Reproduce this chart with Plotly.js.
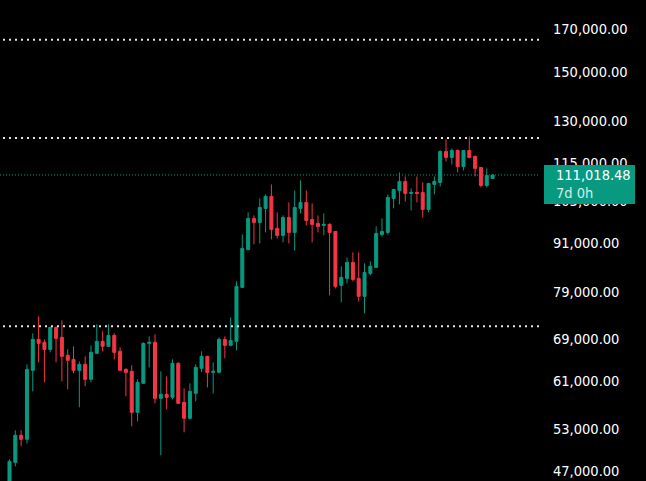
<!DOCTYPE html>
<html>
<head>
<meta charset="utf-8">
<script src="https://cdn.plot.ly/plotly-3.0.1.min.js"></script>
<style>html,body{margin:0;padding:0;background:#000;overflow:hidden}#c{width:646px;height:481px}</style>
</head>
<body>
<div id="c"></div>
<script>
const opens = [44363,48130,52064,51460,62886,68820,68223,66844,71270,69221,65696,64927,62886,63997,61264,66078,68420,67435,69627,66460,
63072,62706,55661,60559,68026,68223,57973,58653,58143,64183,57303,54698,58823,63258,65505,62526,62526,68820,67632,68420,
80056,89404,97840,96708,100727,104307,95037,93124,98127,93937,100727,102498,97553,96429,95871,96150,94208,80525,82177,86091,
82177,77988,83383,84850,93395,93937,103698,106131,108949,105219,105523,105523,100431,108010,108636,118879,116831,119221,113814,119221,
117173,113482,107697,109906];
const highs = [48551,52819,52819,63997,70033,73581,68820,68026,71400,72726,66844,67435,64555,65505,67632,71894,70439,71894,70033,67239,
63258,63811,61264,68223,69424,69830,62706,61804,64927,64369,59683,60559,63997,66460,65600,64369,69221,69424,73371,81461,
93395,99561,98701,103698,104915,108010,99561,98701,102498,106131,109262,106131,102202,98701,99274,96429,94300,85098,87352,88631,
88631,85843,86339,95592,97840,104915,106600,111842,110550,106757,110550,108636,108450,110550,119221,123092,119925,119573,119300,124175,
117515,113550,113150,111200];
const lows = [43500,47574,50424,50865,59163,64369,60734,66269,64369,60909,59508,62346,56478,60034,60734,66000,66460,67350,64932,62800,
58313,53442,54222,60500,63444,57138,49121,56146,57803,57050,52517,54538,57468,62526,59858,58823,62346,65123,67435,66651,
79950,89141,90719,90982,93937,92042,92313,91245,90982,89141,99274,95871,91245,93937,93124,78219,79822,76638,80993,81461,
76859,74226,82901,84750,92853,93395,100727,101906,102794,100135,102498,98127,99561,104915,107383,115473,114477,111842,112486,116489,
110550,107070,107070,109850];
const closes = [48269,52064,51460,63067,68820,68026,66844,71270,69018,65505,64741,62886,63997,61264,66269,68420,67435,69627,66269,62886,
62526,55661,60734,68026,68223,57973,58653,58143,64183,57138,54698,59163,63444,65505,62526,62706,68820,67632,68617,80290,
89667,97840,96708,101023,104307,94758,93124,98127,93937,101023,102498,97266,96150,95592,96150,93937,80290,82418,86091,81936,
77988,83624,85098,93666,94208,104002,106444,108949,105219,105523,105219,100431,108323,108949,118879,116831,119221,113814,119221,116831,
113150,107697,110871,111018.48];
const tickPrices = [47000,53000,61000,69000,79000,91000,103000,115000,130000,150000,170000];
const levels = [164450,123620,71480];
const lastPrice = 111018.48;
const priceLabel = "111,018.48";
const countdown = "7d 0h";
const UP = "#089981", DOWN = "#F23645";
const FONT = "'DejaVu Sans Condensed', Roboto, sans-serif";
const xs = opens.map((_, i) => i);

const W = 646, H = 481, PW = 540;
const fmt = v => v.toLocaleString("en-US", {minimumFractionDigits: 2, maximumFractionDigits: 2});

const shapes = levels.map(v => ({
  type: "line", xref: "paper", yref: "y", x0: 3 / PW, x1: 1, y0: v, y1: v,
  line: {color: "#e4e4e4", width: 2, dash: "2px,4px"}, layer: "above"
}));
shapes.push({
  type: "line", xref: "paper", yref: "y", x0: 0, x1: 1, y0: lastPrice, y1: lastPrice,
  line: {color: UP, width: 1, dash: "1px,2px"}, layer: "below"
});
shapes.push({
  type: "rect", xref: "paper", yref: "paper", x0: 544 / PW, x1: 635 / PW,
  y0: 1 - 204 / H, y1: 1 - 165 / H, fillcolor: UP, line: {width: 0}, layer: "above"
});

Plotly.newPlot("c", [{
  type: "candlestick", x: xs, open: opens, high: highs, low: lows, close: closes,
  increasing: {line: {color: UP, width: 1}, fillcolor: UP},
  decreasing: {line: {color: DOWN, width: 1}, fillcolor: DOWN},
  whiskerwidth: 0, hoverinfo: "skip", showlegend: false
}], {
  width: W, height: H, paper_bgcolor: "#000", plot_bgcolor: "#000",
  margin: {l: 0, r: W - PW, t: 0, b: 0, pad: 0},
  showlegend: false, dragmode: false, boxgap: 0.26,
  xaxis: {range: [-1.632, 91.15], visible: false, rangeslider: {visible: false}, fixedrange: true},
  yaxis: {
    type: "log", side: "right", range: [4.6588, 5.2664], showgrid: false, zeroline: false, showline: false,
    tickmode: "array", tickvals: tickPrices, ticktext: tickPrices.map(fmt),
    ticks: "", ticklabelstandoff: 12,
    tickfont: {family: FONT, size: 14.5, color: "#ffffff"}, fixedrange: true
  },
  shapes: shapes,
  annotations: [
    {xref: "paper", yref: "paper", x: 554 / PW, y: 1 - 174.5 / H, xanchor: "left", yanchor: "middle", text: priceLabel, showarrow: false,
     font: {family: FONT, size: 14.5, color: "#ffffff"}},
    {xref: "paper", yref: "paper", x: 554 / PW, y: 1 - 192.5 / H, xanchor: "left", yanchor: "middle", text: countdown, showarrow: false,
     font: {family: FONT, size: 14.5, color: "#d3ece6"}}
  ]
}, {displayModeBar: false, staticPlot: true});
</script>
</body>
</html>
